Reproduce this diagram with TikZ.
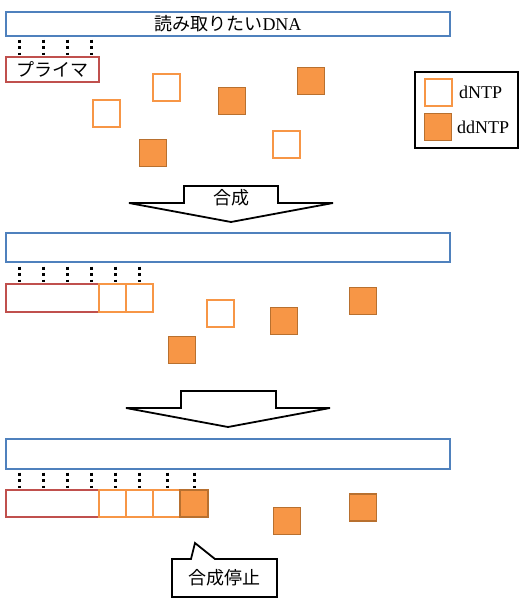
\documentclass[tikz,border=0pt]{standalone}
\usepackage{fontspec}
\setmainfont{Liberation Serif}
\newfontfamily\jp{Noto Sans CJK JP}
\definecolor{dnablue}{HTML}{4F81BD}
\definecolor{primred}{HTML}{C0504D}
\definecolor{ntporange}{HTML}{F79646}
\definecolor{ntpdark}{HTML}{B8702F}
\begin{document}
\begin{tikzpicture}[x=1pt,y=-1pt,
  dnabar/.style={draw=dnablue,line width=2pt,fill=white,minimum width=444pt,inner sep=0pt,font=\fontsize{18}{18}\selectfont},
  primer/.style={draw=primred,line width=2pt,minimum width=93pt,inner sep=0pt,font=\jp\fontsize{18}{18}\selectfont},
  emptysq/.style={draw=ntporange,line width=2pt,minimum width=27pt,minimum height=27pt,inner sep=0pt},
  fillsq/.style={draw=ntpdark,fill=ntporange,line width=1.8pt,minimum width=27pt,minimum height=27pt,inner sep=0pt},
  hbond/.style={line width=3pt,dash pattern=on 3pt off 3.5pt},
  bigarrow/.style={draw=black,line width=1.8pt,fill=white,line join=miter},
  lbl/.style={font=\fontsize{18}{18}\selectfont,inner sep=0pt,anchor=west}]
\useasboundingbox (0,0) rectangle (520,613);

% ---------- panel 1 ----------
\node[dnabar,minimum height=24pt] (dna1) at (228,24) {{\jp 読み取りたい}DNA};
\foreach \x in {19,43,67,91} \draw[hbond] (\x,39.5) -- (\x,55);
\node[primer,minimum height=25pt] (pr1) at (52.5,69.5) {プライマ};
\node[emptysq] (a1) at (166,87) {};
\node[emptysq] (a2) at (106.5,113) {};
\node[emptysq] (a3) at (286,144) {};
\node[fillsq] (a4) at (232,101) {};
\node[fillsq] (a5) at (311,81) {};
\node[fillsq] (a6) at (153,153) {};

% legend
\node[draw=black,line width=1.8pt,minimum width=103pt,minimum height=76pt,inner sep=0pt] (leg) at (466.5,110) {};
\node[emptysq] (le) at (438,92) {};
\node[fillsq] (lf) at (438,127) {};
\node[lbl] (lt1) at (459,92) {dNTP};
\node[lbl] (lt2) at (457,127) {ddNTP};

% arrow 1
\draw[bigarrow] (129,203) -- (184,203) -- (184,186) -- (278,186) -- (278,203) -- (333,203) -- (231,222) -- cycle;
\node[font=\jp\fontsize{18}{18}\selectfont] (syn1) at (231,198) {合成};

% ---------- panel 2 ----------
\node[dnabar,minimum height=29pt] (dna2) at (228,247.5) {};
\foreach \x in {19,43,67,91,115,139} \draw[hbond] (\x,266.5) -- (\x,282);
\node[primer,minimum height=28pt] (pr2) at (52.5,298) {};
\node[emptysq,minimum height=28pt] (b1) at (112.5,298) {};
\node[emptysq,minimum height=28pt] (b2) at (139.5,298) {};
\node[emptysq] (c1) at (220.5,313) {};
\node[fillsq] (c2) at (284,321) {};
\node[fillsq] (c3) at (363,301) {};
\node[fillsq] (c4) at (182,350) {};

% arrow 2
\draw[bigarrow] (126,408) -- (181,408) -- (181,391) -- (276,391) -- (276,408) -- (330,408) -- (228,427) -- cycle;

% ---------- panel 3 ----------
\node[dnabar,minimum height=30pt] (dna3) at (228,454) {};
\foreach \x in {19,43,67,91,115,139,167,194} \draw[hbond] (\x,472.5) -- (\x,488);
\node[primer,minimum height=27pt] (pr3) at (52.5,503.5) {};
\node[emptysq] (d1) at (112.5,503.5) {};
\node[emptysq] (d2) at (139.5,503.5) {};
\node[emptysq] (d3) at (166.5,503.5) {};
\node[fillsq,minimum width=28pt] (d4) at (194,503.5) {};
\node[fillsq] (e1) at (287,521) {};
\node[fillsq] (e2) at (363,507.5) {};

% callout
\draw[bigarrow] (172,559) -- (191,559) -- (195,543) -- (215,559) -- (277,559) -- (277,597) -- (172,597) -- cycle;
\node[font=\jp\fontsize{18}{18}\selectfont] (stop) at (224.5,578) {合成停止};
\end{tikzpicture}
\end{document}
